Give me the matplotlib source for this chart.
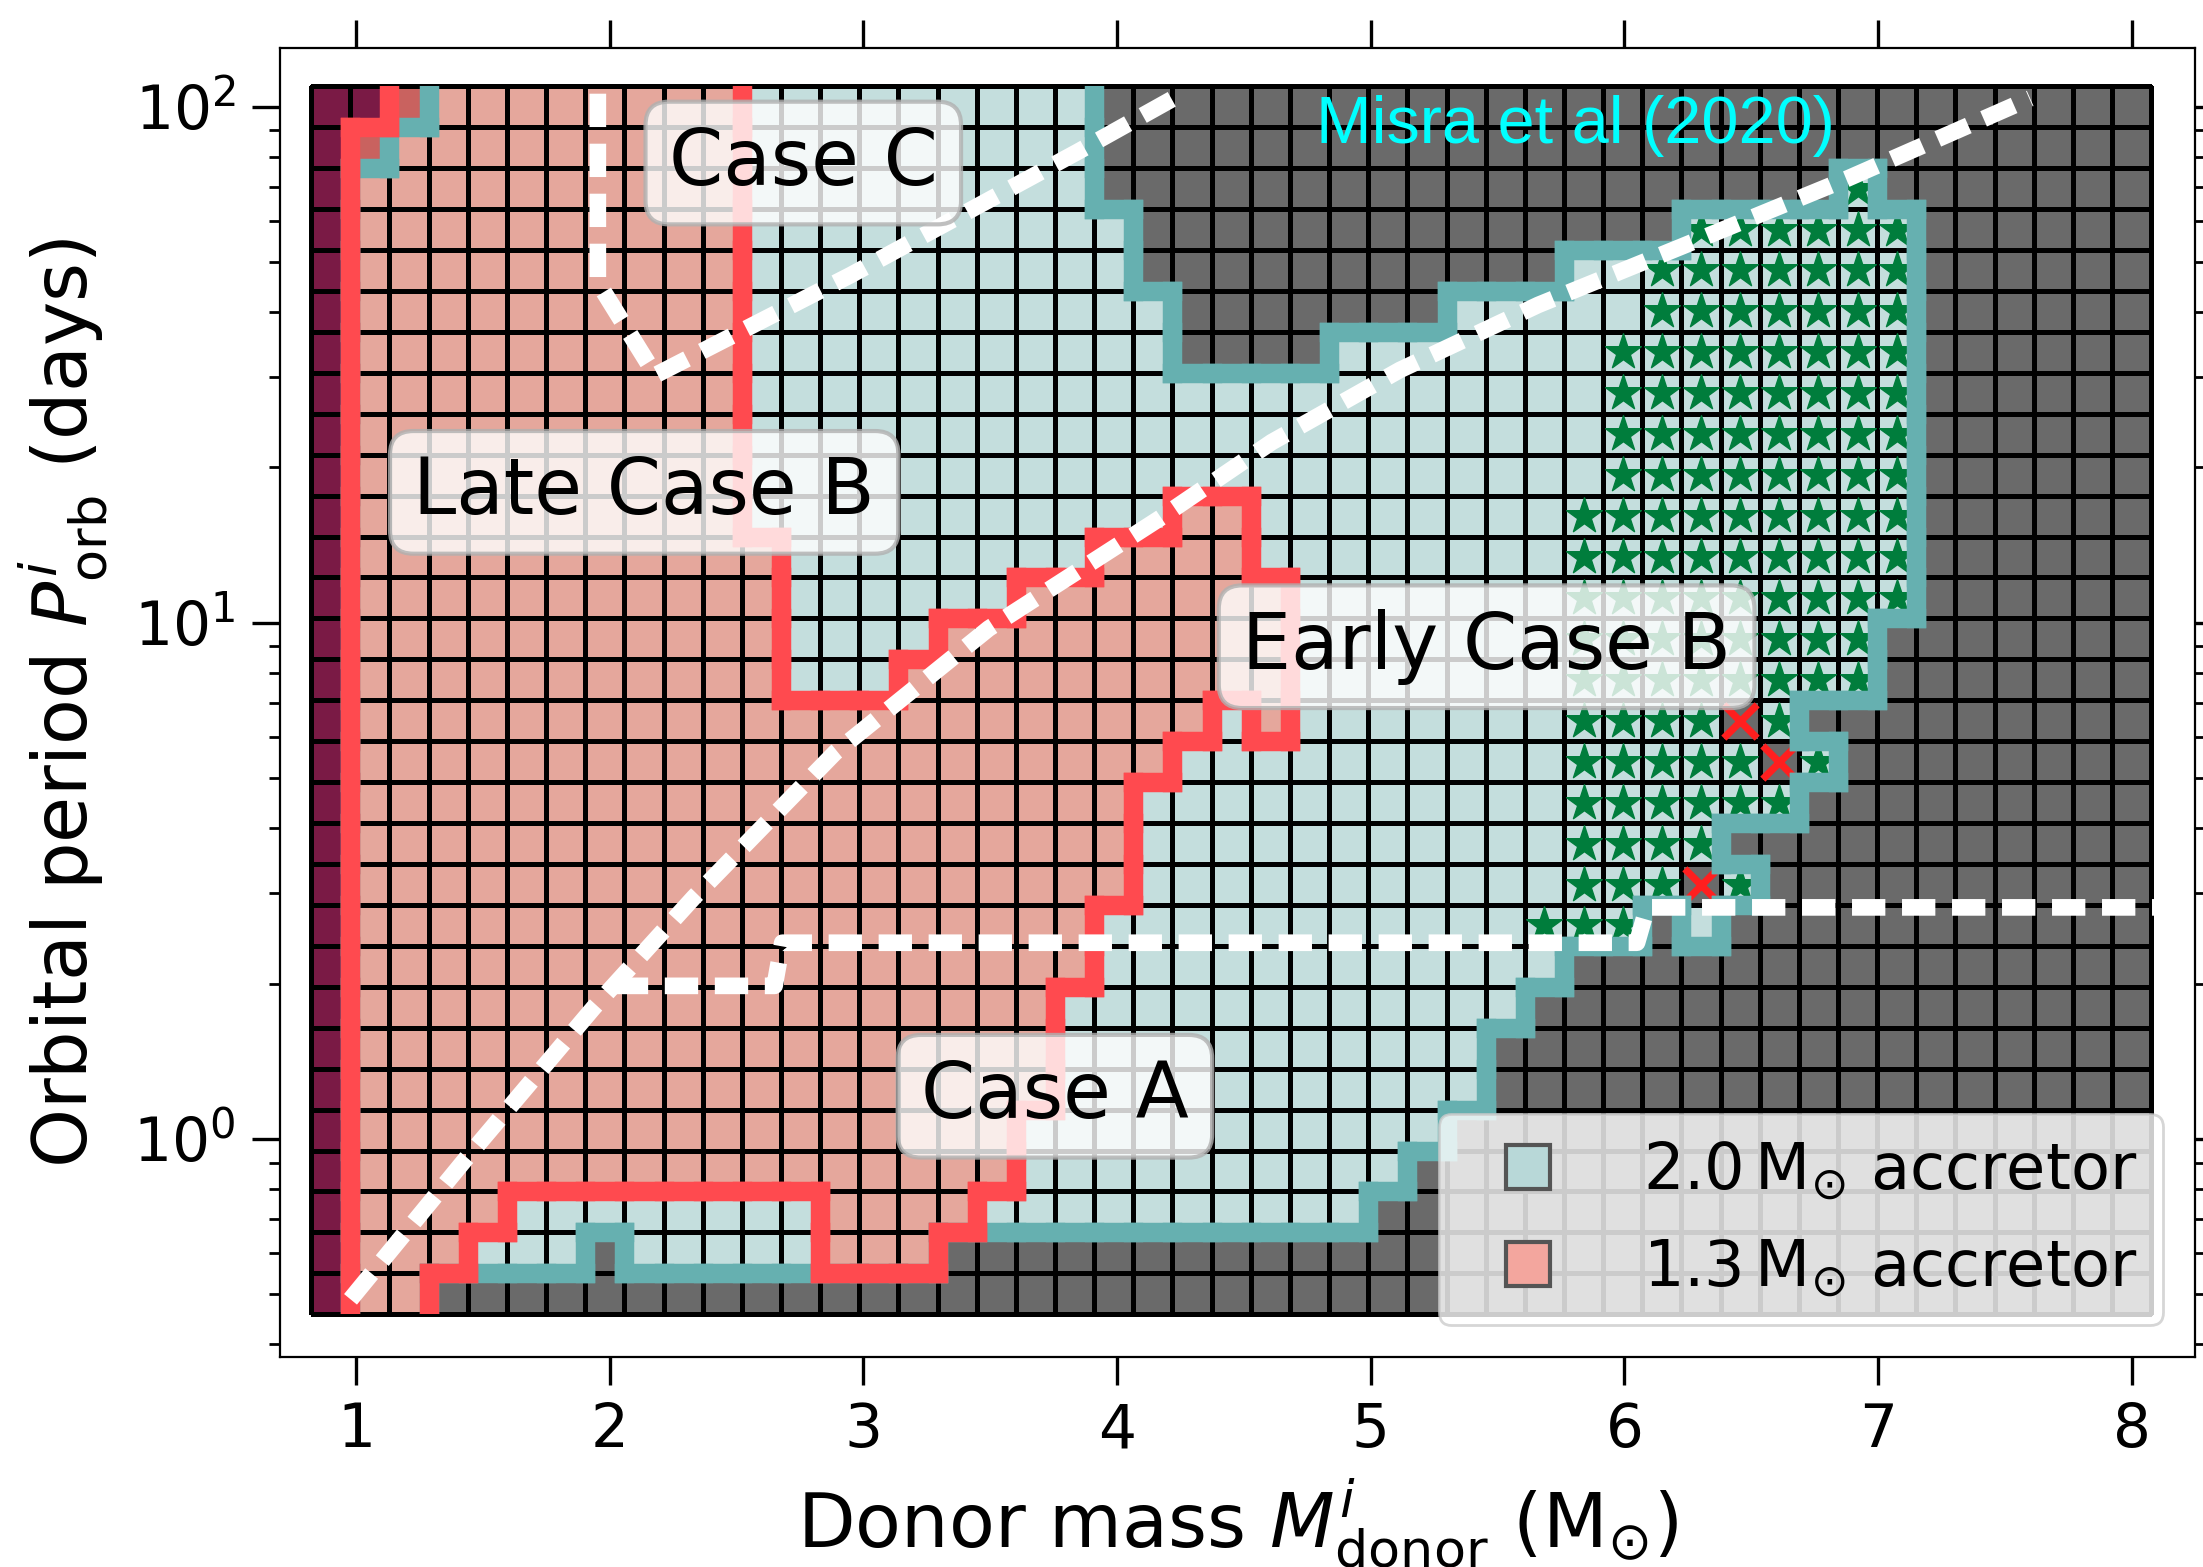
import numpy as np
import matplotlib
matplotlib.use("Agg")
import matplotlib.pyplot as plt
from matplotlib.collections import LineCollection
from matplotlib.colors import ListedColormap
from matplotlib.lines import Line2D
from matplotlib.patches import Rectangle

plt.rcParams['font.family'] = ['DejaVu Sans']

# ---------------- grid of models ----------------
donor_mass = [0.900, 1.054, 1.209, 1.363, 1.517, 1.672, 1.826, 1.980, 2.135, 2.289,
              2.443, 2.598, 2.752, 2.907, 3.061, 3.215, 3.370, 3.524, 3.678, 3.833,
              3.987, 4.141, 4.296, 4.450, 4.604, 4.759, 4.913, 5.067, 5.222, 5.376,
              5.530, 5.685, 5.839, 5.993, 6.148, 6.302, 6.457, 6.611, 6.765, 6.920,
              7.074, 7.228, 7.383, 7.537, 7.691, 7.846, 8.000]
orbital_period = [0.501, 0.602, 0.722, 0.867, 1.040, 1.249, 1.499, 1.800, 2.160, 2.593,
                  3.112, 3.736, 4.484, 5.383, 6.461, 7.756, 9.311, 11.18, 13.41, 16.10,
                  19.33, 23.20, 27.85, 33.43, 40.12, 48.17, 57.82, 69.40, 83.31, 100.0]

# 2.0 Msun accretor region: lowest / highest period row per donor-mass column (-1 = none)
blue_lo = [-1, 0, 0, 1, 1, 1, 1, 2, 1, 1, 1, 1, 1, 1, 1, 1, 2, 2, 2, 2,
           2, 2, 2, 2, 2, 2, 2, 3, 4, 5, 7, 8, 9, 9, 10, 9, 10, 12, 13, 15,
           17, -1, -1, -1, -1, -1, -1]
blue_hi = [-1, 27, 28, 29, 29, 29, 29, 29, 29, 29, 29, 29, 29, 29, 29, 29, 29, 29, 29, 29,
           26, 24, 22, 22, 22, 22, 23, 23, 23, 24, 24, 24, 25, 25, 25, 26, 26, 26, 26, 27,
           26, -1, -1, -1, -1, -1, -1]
blue_hole_col = [36, 38]
blue_hole_row = [11, 14]

# 1.3 Msun accretor region
salmon_lo = [-1, 0, 0, 1, 2, 3, 3, 3, 3, 3, 3, 3, 3, 1, 1, 1, 2, 3, 5, 8,
             10, 13, 14, 15, 14] + [-1] * 22
salmon_hi = [-1, 28, 29, 29, 29, 29, 29, 29, 29, 29, 29, 18, 14, 14, 14, 15, 16, 16, 17, 17,
             18, 18, 19, 19, 17] + [-1] * 22

# other category (dark maroon)
maroon_col = [0, 1]
maroon_lo = [0, 29]
maroon_hi = [29, 29]

# star-marked models
star_col = [31, 32, 33, 34, 35, 36, 37, 38, 39, 40]
star_lo = [9, 9, 9, 10, 11, 10, 12, 13, 15, 17]
star_hi = [9, 19, 23, 25, 26, 26, 26, 26, 27, 26]

# failed models (red crosses)
fail_mass = [6.302, 6.457, 6.611]
fail_period = [3.112, 6.461, 5.383]

# white dashed boundaries
diag_mass = [0.978, 1.43, 1.938, 2.332, 2.889, 3.494, 4.165, 4.61, 5.115, 5.66, 6.23, 6.88, 7.6]
diag_period = [0.489, 0.912, 1.80, 2.94, 5.61, 9.75, 15.9, 22.4, 30.9, 41.3, 53.7, 72.6, 103.8]
caseC_mass = [1.953, 1.953, 2.18, 2.95, 3.845, 4.27]
caseC_period = [106.0, 45.7, 30.2, 47.2, 81.8, 107.0]
caseAB_mass = [2.02, 2.65, 2.68, 6.05, 6.09, 8.09]
caseAB_period = [1.98, 1.98, 2.40, 2.40, 2.81, 2.81]

# ---------------- build cell maps ----------------
m = np.array(donor_mass)
lp = np.log10(orbital_period)
xe = np.concatenate([[m[0] - (m[1] - m[0]) / 2], (m[:-1] + m[1:]) / 2, [m[-1] + (m[-1] - m[-2]) / 2]])
le = np.concatenate([[lp[0] - (lp[1] - lp[0]) / 2], (lp[:-1] + lp[1:]) / 2, [lp[-1] + (lp[-1] - lp[-2]) / 2]])
ye = 10 ** le
ncol, nrow = len(m), len(lp)

blue = np.zeros((nrow, ncol), bool)
for i, (lo, hi) in enumerate(zip(blue_lo, blue_hi)):
    if lo >= 0:
        blue[lo:hi + 1, i] = True
for c, r in zip(blue_hole_col, blue_hole_row):
    blue[r, c] = False

salmon = np.zeros((nrow, ncol), bool)
for i, (lo, hi) in enumerate(zip(salmon_lo, salmon_hi)):
    if lo >= 0:
        salmon[lo:hi + 1, i] = True

maroon = np.zeros((nrow, ncol), bool)
for c, lo, hi in zip(maroon_col, maroon_lo, maroon_hi):
    maroon[lo:hi + 1, c] = True

fail = np.zeros((nrow, ncol), bool)
for fm, fp in zip(fail_mass, fail_period):
    fail[np.argmin(np.abs(lp - np.log10(fp))), np.argmin(np.abs(m - fm))] = True

cat = np.zeros((nrow, ncol))
cat[blue & ~fail] = 1
cat[salmon & blue] = 2
cat[salmon & ~blue] = 3
cat[maroon] = 4

colors = ['#6a6a6a', '#c4dedd', '#e5a79c', '#c9625f', '#7a1a45']

# ---------------- figure ----------------
fig = plt.figure(figsize=(11.015, 7.835), dpi=200)
ax = fig.add_axes([0.1271, 0.134, 0.8693, 0.8354])
ax.set_yscale('log')

ax.pcolormesh(xe, ye, cat, cmap=ListedColormap(colors), vmin=-0.5, vmax=4.5,
              edgecolors='black', linewidth=1.1, zorder=1)

# stars
sx, sy = [], []
for c, lo, hi in zip(star_col, star_lo, star_hi):
    for r in range(lo, hi + 1):
        if cat[r, c] == 1:
            sx.append(m[c])
            sy.append(orbital_period[r])
ax.scatter(sx, sy, marker='*', s=13.5 ** 2, c='#007d3c', edgecolors='#007d3c',
           linewidths=0.5, zorder=3)
ax.scatter(fail_mass, fail_period, marker='x', s=12 ** 2, c='#ff1f1f', linewidths=2.6, zorder=4)


def outline(mask):
    segs = []
    for j in range(nrow):
        for i in range(ncol - 1):
            if mask[j, i] != mask[j, i + 1]:
                segs.append([(xe[i + 1], ye[j]), (xe[i + 1], ye[j + 1])])
    for j in range(nrow - 1):
        for i in range(ncol):
            if mask[j, i] != mask[j + 1, i]:
                segs.append([(xe[i], ye[j + 1]), (xe[i + 1], ye[j + 1])])
    return segs


clip = Rectangle((xe[0], ye[0]), xe[-1] - xe[0], ye[-1] - ye[0], transform=ax.transData)
for mask, col, z in [(blue, '#66b0b0', 5), (salmon, '#ff4a4f', 6)]:
    lc = LineCollection(outline(mask), colors=col, linewidths=7, capstyle='projecting', zorder=z)
    ax.add_collection(lc)
    lc.set_clip_path(clip)

for xs, ys in [(diag_mass, diag_period), (caseC_mass, caseC_period), (caseAB_mass, caseAB_period)]:
    ax.plot(xs, ys, color='white', lw=6, dashes=(2, 1), zorder=7)

box = dict(boxstyle='round,pad=0.3', fc='white', ec='#b0b0b0', alpha=0.8, lw=1.5)
labels = [('Case C', 2.763, 77.8), ('Late Case B', 2.136, 17.9),
          ('Early Case B', 5.457, 8.99), ('Case A', 3.755, 1.21)]
for txt, lx, ly in labels:
    ax.text(lx, ly, txt, fontsize=28, ha='center', va='center', bbox=box, zorder=8)

ax.text(4.786, 91.6, 'Misra et al (2020)', color='cyan', fontsize=24,
        family='Liberation Sans', ha='left', va='center', zorder=9)

handles = [Line2D([], [], ls='', marker='s', ms=16, mfc='#b8d8d8', mec='#555555', mew=1.5),
           Line2D([], [], ls='', marker='s', ms=16, mfc='#f3a69e', mec='#555555', mew=1.5)]
leg = ax.legend(handles, [r'2.0$\,\mathrm{M}_{\odot}$ accretor', r'1.3$\,\mathrm{M}_{\odot}$ accretor'],
                loc='lower right', fontsize=23, labelspacing=0.55, framealpha=0.8)
leg.set_zorder(10)

ax.set_xlim(0.70, 8.25)
ax.set_ylim(0.378, 130)
ax.set_xticks(range(1, 9))
ax.tick_params(which='both', direction='out', top=True, right=True, labelsize=21.5, pad=6)
ax.tick_params(which='major', length=10, width=1.2)
ax.tick_params(which='minor', length=3.8, width=1.0)
ax.set_xlabel(r'Donor mass $M^{i}_{\rm donor}$ (M$_{\odot}$)', fontsize=27, labelpad=6)
ax.set_ylabel(r'Orbital period $P^{i}_{\rm orb}$ (days)', fontsize=27, labelpad=8)

fig.savefig('out.png', dpi=200)
